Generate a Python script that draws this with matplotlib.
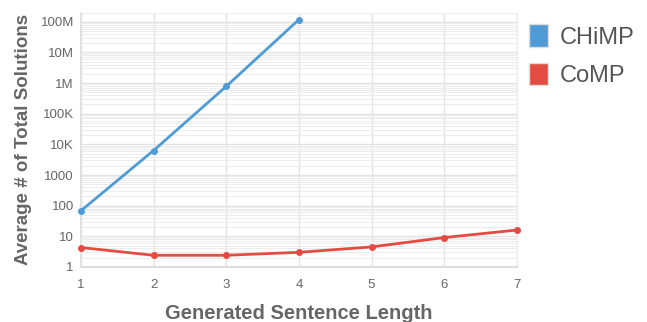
import numpy as np
import matplotlib
matplotlib.use("Agg")
import matplotlib.pyplot as plt
from matplotlib.patches import Patch
from matplotlib.ticker import FixedLocator, LogLocator, NullFormatter

plt.rcParams['font.family'] = ['Liberation Sans', 'DejaVu Sans']

# data
lengths_chimp = [1, 2, 3, 4]
chimp = [68, 6300, 780000, 118000000]
lengths_comp = [1, 2, 3, 4, 5, 6, 7]
comp = [4.3, 2.4, 2.4, 3.0, 4.5, 9.1, 16]
ytick_vals = [1, 10, 100, 1000, 1e4, 1e5, 1e6, 1e7, 1e8]
ytick_labels = ['1', '10', '100', '1000', '10K', '100K', '1M', '10M', '100M']

blue = '#4f9bd5'
red = '#e44b41'
grey = '#666666'

fig = plt.figure(figsize=(6.47, 3.22), dpi=100)
ax = fig.add_axes([0.125, 0.171, 0.674, 0.79])

ax.plot(lengths_chimp, chimp, color=blue, lw=2, marker='o', ms=4, zorder=3, clip_on=False)
ax.plot(lengths_comp, comp, color=red, lw=2, marker='o', ms=4, zorder=3, clip_on=False)

ax.set_yscale('log')
ax.set_xlim(1, 7)
ax.set_ylim(1, 2e8)
ax.set_xticks(range(1, 8))
ax.yaxis.set_major_locator(FixedLocator(ytick_vals))
ax.set_yticklabels(ytick_labels)
ax.yaxis.set_minor_locator(LogLocator(base=10, subs=np.arange(2, 10)))
ax.yaxis.set_minor_formatter(NullFormatter())

ax.grid(True, which='major', color='#e3e3e3', lw=1)
ax.grid(True, which='minor', axis='y', color='#ededed', lw=0.8)
ax.set_axisbelow(True)

ax.spines['top'].set_visible(False)
ax.spines['right'].set_color('#ececec')
ax.spines['left'].set_color('#dddddd')
ax.spines['bottom'].set_color('#dddddd')
ax.spines['left'].set_linewidth(1.2)
ax.spines['bottom'].set_linewidth(1.5)

ax.tick_params(axis='both', which='both', length=0, colors=grey, labelsize=9.5)
ax.tick_params(axis='x', pad=9)
ax.tick_params(axis='y', pad=5)

ax.set_xlabel('Generated Sentence Length', fontsize=14.5, fontweight='bold', color=grey, labelpad=9)
ax.set_ylabel('Average # of Total Solutions', fontsize=13.5, fontweight='bold', color=grey, labelpad=6)

handles = [Patch(facecolor=blue, edgecolor='#dddddd', label='CHiMP'),
           Patch(facecolor=red, edgecolor='#dddddd', label='CoMP')]
fig.legend(handles=handles, loc='upper left', bbox_to_anchor=(0.818, 0.925), frameon=False,
           borderaxespad=0, borderpad=0,
           fontsize=17, labelcolor='#555555', handlelength=0.8, handleheight=1.1,
           handletextpad=0.5, labelspacing=0.6)

fig.savefig('out.png', dpi=100)
